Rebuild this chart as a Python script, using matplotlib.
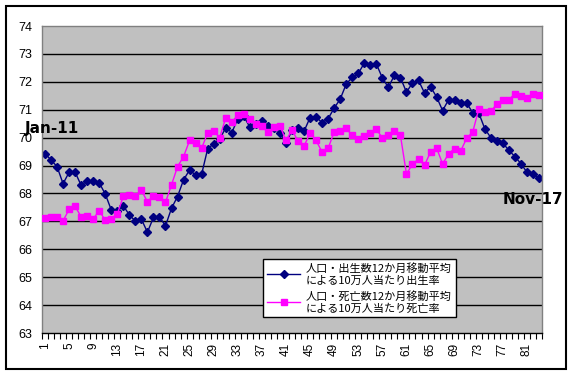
import matplotlib
matplotlib.use("Agg")
import matplotlib.pyplot as plt
from matplotlib.patches import Rectangle
import numpy as np

months = list(range(1, 84))
birth_rate = [
    69.43, 69.20, 68.96, 68.35, 68.76, 68.76, 68.29, 68.46, 68.44, 68.38,
    67.98, 67.41, 67.38, 67.56, 67.23, 67.01, 67.08, 66.61, 67.14, 67.16,
    66.84, 67.47, 67.89, 68.49, 68.84, 68.66, 68.69, 69.60, 69.78, 69.94,
    70.36, 70.18, 70.67, 70.76, 70.38, 70.50, 70.61, 70.42, 70.35, 70.18,
    69.79, 70.26, 70.36, 70.23, 70.72, 70.75, 70.53, 70.68, 71.06, 71.38,
    71.92, 72.16, 72.30, 72.67, 72.61, 72.64, 72.14, 71.80, 72.24, 72.15,
    71.63, 71.96, 72.05, 71.60, 71.82, 71.46, 70.97, 71.36, 71.36, 71.23,
    71.24, 70.89, 70.89, 70.32, 70.00, 69.87, 69.80, 69.55, 69.32, 69.07,
    68.76, 68.68, 68.54]
death_rate = [
    67.13, 67.16, 67.16, 67.02, 67.43, 67.54, 67.16, 67.20, 67.09, 67.38,
    67.04, 67.10, 67.26, 67.90, 67.94, 67.90, 68.12, 67.70, 67.91, 67.89,
    67.68, 68.31, 68.96, 69.32, 69.90, 69.80, 69.62, 70.17, 70.23, 70.00,
    70.71, 70.56, 70.80, 70.86, 70.67, 70.50, 70.40, 70.20, 70.37, 70.42,
    69.90, 70.27, 69.88, 69.70, 70.16, 69.90, 69.48, 69.62, 70.20, 70.24,
    70.33, 70.08, 69.94, 70.05, 70.16, 70.30, 69.99, 70.10, 70.24, 70.08,
    68.70, 69.05, 69.23, 69.01, 69.49, 69.63, 69.06, 69.42, 69.61, 69.52,
    69.98, 70.20, 71.02, 70.92, 70.94, 71.20, 71.35, 71.35, 71.58, 71.49,
    71.42, 71.58, 71.52]
xtick_labels = [str(v) for v in range(1, 84, 4)]
y_ticks = list(range(63, 75))
label_birth = "人口・出生数12か月移動平均\nによる10万人当たり出生率"
label_death = "人口・死亡数12か月移動平均\nによる10万人当たり死亡率"

W, H = 574, 376
fig = plt.figure(figsize=(W / 100, H / 100), dpi=100)
fig.patch.set_facecolor("white")

ax = fig.add_axes([42 / W, (H - 333) / H, 500 / W, 307 / H])
ax.set_facecolor("#C0C0C0")
for s in ax.spines.values():
    s.set_color("#808080")
    s.set_linewidth(1.0)
ax.spines["bottom"].set_color("black")

ax.set_ylim(63, 74)
ax.set_xlim(0.5, 83.5)
ax.set_yticks(y_ticks)
ax.set_yticklabels([str(v) for v in y_ticks], fontsize=9, family="Liberation Sans")
ax.tick_params(axis="y", length=0, pad=7)
for v in y_ticks[1:-1]:
    ax.axhline(v, color="black", linewidth=1.0, zorder=1)

# tick marks at category boundaries, labels centered
ax.set_xticks(np.arange(0.5, 84, 1.0))
ax.set_xticklabels([])
ax.tick_params(axis="x", which="major", length=4, direction="out", color="black", width=0.8)
ax.set_xticks(list(range(1, 84, 4)), minor=True)
ax.set_xticklabels(xtick_labels, minor=True, rotation=90, fontsize=8.5, family="Liberation Sans")
ax.tick_params(axis="x", which="minor", length=0, pad=7)

ax.plot(months, birth_rate, color="#000080", linewidth=1.0, marker="D", markersize=4.5,
        markeredgecolor="#000080", markerfacecolor="#000080", zorder=2, label=label_birth)
ax.plot(months, death_rate, color="#FF00FF", linewidth=1.0, marker="s", markersize=4.6,
        markeredgecolor="#FF00FF", markerfacecolor="#FF00FF", zorder=3, label=label_death)

leg = ax.legend(loc="upper left", bbox_to_anchor=((263 - 42) / 500, (333 - 259) / 307),
                frameon=True, fancybox=False, framealpha=1, edgecolor="black",
                prop={"family": ["Noto Sans CJK JP", "DejaVu Sans"], "size": 8},
                borderpad=0.35, labelspacing=0.45, handlelength=3.0, handletextpad=0.5,
                borderaxespad=0)
leg.get_frame().set_linewidth(1.0)
leg.set_zorder(5)

fig.text(25 / W, 1 - 128 / H, "Jan-11", fontsize=11, fontweight="bold",
         family="DejaVu Sans", va="center", ha="left")
fig.text(503 / W, 1 - 200 / H, "Nov-17", fontsize=11, fontweight="bold",
         family="DejaVu Sans", va="center", ha="left")

fig.patches.append(Rectangle((6 / W, (H - 369) / H), 560 / W, 363 / H,
                             transform=fig.transFigure, fill=False,
                             edgecolor="black", linewidth=1.5))

fig.savefig("out.png", dpi=100)
